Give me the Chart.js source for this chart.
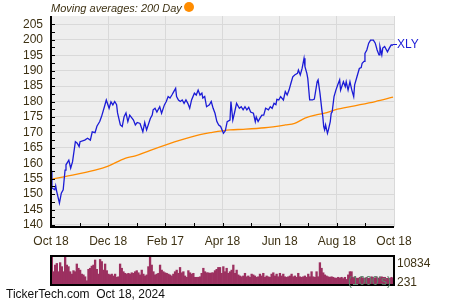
<!DOCTYPE html>
<html>
<head>
<meta charset="utf-8">
<script src="https://cdn.jsdelivr.net/npm/chart.js@4.4.1/dist/chart.umd.min.js"></script>
<style>
    html, body { margin: 0; padding: 0; background: #fff; }
    #wrap { position: relative; width: 450px; height: 300px; overflow: hidden;
            font-family: "Liberation Sans", Arial, sans-serif; font-size: 12px; }
    canvas { position: absolute; left: 0; }
    #main { top: 0; }
    #vol { top: 250px; }
    .txt { position: absolute; line-height: 14px; white-space: pre; }
</style>
</head>
<body>
<div id="wrap">
    <canvas id="main" width="450" height="250"></canvas>
    <canvas id="vol" width="450" height="40"></canvas>
    <div class="txt" style="left:51px; top:1px; font-size:11px; font-style:italic; color:#3e3214;">Moving averages: 200 Day</div>
    <div style="position:absolute; left:184px; top:2px; width:10px; height:10px; border-radius:50%; background:#ff8c00;"></div>
    <div style="position:absolute; left:393px; top:44px; width:4px; height:1px; background:#1b1bd6;"></div>
    <div class="txt" style="left:397px; top:37px; color:#1b1bd6;">XLY</div>
    <div class="txt" style="left:397px; top:256px; color:#3e3214;">10834</div>
    <div class="txt" style="left:397px; top:275px; color:#3e3214;">231</div>
    <div class="txt" style="left:348px; top:274px; color:#5b8a6e;">(1000's)</div>
    <div class="txt" style="left:6px; top:287px; color:#111;">TickerTech.com  Oct 18, 2024</div>
</div>

<script>
    // ============================================
    // DATOS (días desde Oct 18, 2023)
    // ============================================
    const tickDays = [0, 61, 122, 183, 244, 305, 366];
    const tickLabels = ['Oct 18', 'Dec 18', 'Feb 17', 'Apr 18', 'Jun 18', 'Aug 18', 'Oct 18'];
    const priceTicks = [140, 145, 150, 155, 160, 165, 170, 175, 180, 185, 190, 195, 200, 205];

    const priceDays = [0, 1, 4, 5, 6, 9, 11, 13, 15, 16, 19, 21, 23, 26, 28, 30, 31, 36, 39, 42,
        44, 47, 49, 52, 54, 57, 59, 62, 64, 66, 68, 70, 71, 74, 76, 78, 80, 82, 84, 88,
        90, 92, 95, 98, 100, 102, 106, 108, 109, 111, 113, 116, 118, 121, 123, 125, 127, 129, 131, 133,
        134, 136, 138, 140, 142, 144, 146, 148, 150, 153, 155, 157, 159, 161, 162, 164, 166, 169, 171, 173,
        175, 177, 179, 181, 184, 186, 188, 191, 192, 194, 196, 198, 201, 203, 205, 207, 209, 211, 213, 216,
        218, 219, 221, 223, 225, 227, 229, 232, 234, 236, 238, 240, 241, 243, 245, 248, 250, 252, 254, 256,
        258, 260, 263, 264, 266, 268, 270, 271, 273, 274, 276, 279, 281, 284, 285, 287, 289, 290, 291, 292,
        293, 295, 296, 298, 299, 300, 302, 304, 306, 308, 309, 312, 314, 315, 317, 319, 321, 323, 324, 327,
        329, 331, 332, 334, 335, 337, 339, 341, 344, 346, 348, 350, 351, 353, 354, 356, 359, 361, 363, 365];
    const prices = [157.6, 152, 151.4, 152.7, 151, 147.1, 150.3, 151.4, 157.8, 159.5, 161, 158.4, 160.5, 167, 166.5, 165.4, 167, 167.5, 168.1, 167.5,
        170.2, 169.9, 172, 173.5, 175.2, 178.3, 180.5, 177.8, 179.9, 178.9, 180, 179, 176.3, 172.4, 171.9, 175.1, 176.3, 173.5, 175.6, 174,
        172.4, 173.2, 172.9, 170.2, 173.2, 170.8, 174.5, 175.6, 177.3, 177.8, 176.6, 178.3, 176.2, 178.9, 180, 181.6, 181.1, 182.1, 183.2, 184.3,
        181.6, 180.5, 180, 180.5, 179.4, 180.5, 179.4, 177.8, 180.5, 182.7, 182.1, 183.7, 182.1, 182.7, 181.1, 181.6, 178.3, 178.9, 180, 177.8,
        176.2, 173.5, 172.4, 171.9, 169.7, 170.5, 173.5, 174, 180, 174, 176.6, 179.4, 177.8, 178.3, 177.3, 178.3, 177.3, 178.1, 176.6, 176.2,
        173.5, 175, 173.5, 174.6, 175.6, 175.6, 177.8, 177.3, 178.3, 177.8, 179.4, 179, 180.7, 180.5, 181.6, 180.5, 183.2, 182.1, 183.7, 185.9,
        188, 188.6, 189.1, 190.2, 188.6, 190.8, 194, 191.3, 189.1, 187.5, 180.5, 180.5, 180.8, 186.4, 187, 182.7, 177.3, 175.2, 171.9, 170.8,
        172.4, 169.7, 170.8, 173.5, 176.2, 176.6, 181.6, 183.7, 185.4, 187, 183.7, 186.4, 184.8, 186.4, 183.7, 186.4, 183.7, 181.6, 185.4, 188.6,
        190.7, 191, 192.4, 193, 195.6, 196.7, 198.9, 199.9, 199.9, 198.9, 196.7, 195.1, 197.8, 195.1, 197.3, 197.8, 196.1, 197.3, 198.3, 198.3];

    const maDays = [0, 15, 47, 61, 79, 90, 106, 138, 159, 170, 191, 205, 228, 250, 260, 271, 282, 292, 303, 324, 346, 365];
    const ma200 = [154.8, 155.7, 157.8, 159.1, 161.6, 162.4, 164.2, 167.5, 169.3, 169.9, 170.8, 171, 171.5, 172.4, 172.9, 174.6, 175.6, 176.2, 177.3, 178.6, 180, 181.4];

    // volumen en miles, barras consecutivas
    const volumes = [10834, 5000, 7500, 8100, 5000, 8400, 6900, 5000, 10800, 7500, 6900, 5000, 4100, 5400, 5000, 7900, 6300, 5600, 4100, 3800,
        3100, 1600, 5900, 6300, 7100, 7500, 9400, 5900, 4100, 9600, 8800, 5600, 7900, 5400, 4100, 3800, 4100, 3400, 4100, 2900,
        3100, 7900, 6300, 5000, 4400, 4100, 4400, 4100, 4600, 4400, 5000, 5400, 4600, 3800, 5600, 4100, 3400, 3800, 6900, 10600,
        7500, 5000, 3800, 4100, 4400, 7500, 5600, 5000, 4600, 4400, 4100, 3800, 3400, 4100, 5000, 5600, 4400, 6600, 4600, 5000,
        3400, 2900, 5400, 4600, 4100, 4400, 2900, 2900, 2900, 3100, 4400, 6300, 5000, 4600, 4600, 4400, 4600, 4600, 5400, 5900,
        6600, 6600, 4400, 6900, 5000,
        6300, 4400, 5000, 5600, 7500, 4400, 5600, 3800, 3400, 3100, 3400, 4400, 3100, 3400, 2900, 4100, 3800, 3400, 2900, 3100,
        4100, 3400, 4400, 2900, 3400, 3100, 2900, 4100, 4600, 3400, 4100, 3100, 4400, 3400, 4100, 3100, 2900, 3100, 3400, 4100,
        3100, 3400, 2900, 4400, 3100, 2900, 3100, 3400, 2900, 4100, 3100, 5000, 3100, 2900, 5000, 3100, 8400, 6300, 4600, 3800,
        3400, 3100, 2900, 3100, 2900, 2600, 2600, 2900, 2600, 2900, 2400, 2900, 2100, 3800, 5000, 5000, 2900, 3100, 2600, 2500,
        2900, 3100, 2500, 2500, 2900, 2500, 2600, 3100, 2900, 2600, 3100, 2500, 2900, 3100, 2900, 2900, 2500, 2600, 2500, 2900, 2500];

    // ============================================
    // ESTILO
    // ============================================
    const colors = {
        price: '#1b1bd6',
        ma: '#ff8c00',
        volume: '#9c3060',
        plotBg: '#eeeeee',
        grid: '#d9d9d9',
        axis: '#000000',
        label: '#3e3214'
    };
    const font = { family: "'Liberation Sans', Arial, sans-serif", size: 12 };

    const plotBackground = {
        id: 'plotBackground',
        beforeDraw(chart) {
            const a = chart.chartArea, ctx = chart.ctx;
            ctx.save();
            ctx.fillStyle = colors.plotBg;
            ctx.fillRect(a.left, a.top, a.right - a.left, a.bottom - a.top);
            ctx.restore();
        }
    };

    // ejes y marcas menores hacia dentro
    const axisTicks = {
        id: 'axisTicks',
        afterDatasetsDraw(chart) {
            const a = chart.chartArea, ctx = chart.ctx;
            const xs = chart.scales.x, ys = chart.scales.y;
            ctx.save();
            ctx.strokeStyle = colors.axis;
            ctx.lineWidth = 1;
            ctx.beginPath();
            for (let v = 140; v <= 207; v += 2.5) {
                const y = Math.round(ys.getPixelForValue(v)) + 0.5;
                ctx.moveTo(a.left, y);
                ctx.lineTo(a.left + 4, y);
            }
            for (let i = 0; i < tickDays.length - 1; i++) {
                [tickDays[i], (tickDays[i] + tickDays[i + 1]) / 2].forEach(d => {
                    const x = Math.round(xs.getPixelForValue(d)) + 0.5;
                    ctx.moveTo(x, a.bottom);
                    ctx.lineTo(x, a.bottom - 4);
                });
            }
            ctx.stroke();
            ctx.lineWidth = 2;
            ctx.beginPath();
            ctx.moveTo(a.left, a.top);
            ctx.lineTo(a.left, a.bottom);
            ctx.lineTo(a.right, a.bottom);
            ctx.stroke();
            ctx.restore();
        }
    };

    const volumeFrame = {
        id: 'volumeFrame',
        afterDraw(chart) {
            const a = chart.chartArea, ctx = chart.ctx;
            ctx.save();
            ctx.strokeStyle = colors.axis;
            ctx.lineWidth = 2;
            ctx.strokeRect(a.left, a.top, a.right - a.left, a.bottom - a.top);
            ctx.restore();
        }
    };

    // ============================================
    // GRÁFICO PRINCIPAL
    // ============================================
    new Chart(document.getElementById('main'), {
        type: 'line',
        data: {
            datasets: [{
                label: 'XLY',
                data: priceDays.map((d, i) => ({ x: d, y: prices[i] })),
                borderColor: colors.price,
                borderWidth: 1.3,
                pointRadius: 0,
                tension: 0
            }, {
                label: '200 Day',
                data: maDays.map((d, i) => ({ x: d, y: ma200[i] })),
                borderColor: colors.ma,
                borderWidth: 1.3,
                pointRadius: 0,
                cubicInterpolationMode: 'monotone'
            }]
        },
        options: {
            responsive: false,
            animation: false,
            events: [],
            layout: { padding: { top: 16, right: 56, left: 0, bottom: 0 } },
            plugins: { legend: { display: false }, tooltip: { enabled: false } },
            scales: {
                x: {
                    type: 'linear',
                    min: 0,
                    max: 366,
                    afterBuildTicks: scale => { scale.ticks = tickDays.map(v => ({ value: v })); },
                    afterFit: scale => { scale.height = 23; },
                    ticks: {
                        padding: 7,
                        color: colors.label,
                        font: font,
                        maxRotation: 0,
                        autoSkip: false,
                        callback: (v, i) => tickLabels[i]
                    },
                    grid: { color: colors.grid, lineWidth: 1, drawTicks: false },
                    border: { display: false }
                },
                y: {
                    min: 139.35,
                    max: 207.7,
                    afterBuildTicks: scale => { scale.ticks = priceTicks.map(v => ({ value: v })); },
                    afterFit: scale => { scale.width = 51; },
                    ticks: { padding: 8, color: colors.label, font: font, autoSkip: false },
                    grid: { color: colors.grid, lineWidth: 1, drawTicks: false },
                    border: { display: false }
                }
            }
        },
        plugins: [plotBackground, axisTicks]
    });

    // ============================================
    // VOLUMEN
    // ============================================
    new Chart(document.getElementById('vol'), {
        type: 'bar',
        data: {
            labels: volumes.map((v, i) => i),
            datasets: [{
                data: volumes,
                backgroundColor: colors.volume,
                borderWidth: 0,
                barPercentage: 1,
                categoryPercentage: 1
            }]
        },
        options: {
            responsive: false,
            animation: false,
            events: [],
            layout: { padding: { top: 6, right: 56, left: 51, bottom: 5 } },
            plugins: { legend: { display: false }, tooltip: { enabled: false } },
            scales: {
                x: { display: false },
                y: { display: false, min: 0, max: 10900 }
            }
        },
        plugins: [plotBackground, volumeFrame]
    });
</script>
</body>
</html>
